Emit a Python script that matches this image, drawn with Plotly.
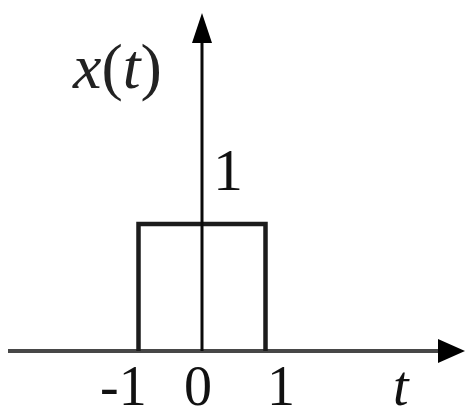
import plotly.graph_objects as go

# Rectangular pulse x(t): 1 for |t| < 1, 0 elsewhere
t_pulse = [-1, -1, 1, 1]
x_pulse = [0, 1, 1, 0]

# Labels on the time axis and the amplitude label
tick_vals = [-1, 0, 1]
tick_text = ["-1", "0", "1"]
amp_val = 1
amp_text = "1"

# ---- layout geometry (pixels) ----
W, H = 467, 417
x0_px, px_per_t = 202, 63.5      # pixel column of t = 0, pixels per unit of t
y0_px, px_per_x = 351, 127       # pixel row of x = 0, pixels per unit of x
xr = [-x0_px / px_per_t, (W - x0_px) / px_per_t]
yr = [-(H - y0_px) / px_per_x, y0_px / px_per_x]


def t_at(px):
    return (px - x0_px) / px_per_t


def v_at(py):
    return (y0_px - py) / px_per_x


FONT = "Liberation Serif"
label_dx = [-15, -4, 15]          # horizontal nudge of each tick label
label_dy = -35                    # tick labels sit below the axis

fig = go.Figure()

# pulse outline
fig.add_trace(go.Scatter(
    x=t_pulse, y=x_pulse, mode="lines",
    line=dict(color="#1c1c1c", width=4.5),
    hoverinfo="skip", showlegend=False,
))

shapes = []
# horizontal (time) axis shaft
shapes.append(dict(type="line", xref="x", yref="y",
                   x0=t_at(8), x1=t_at(445), y0=0, y1=0,
                   line=dict(color="#474747", width=4), layer="below"))
# vertical axis shaft
shapes.append(dict(type="line", xref="x", yref="y",
                   x0=0, x1=0, y0=0, y1=v_at(35),
                   line=dict(color="#0a0a0a", width=3), layer="above"))
# arrowheads, drawn in pixels around the tip
shapes.append(dict(type="path", xref="x", yref="y",
                   xsizemode="pixel", ysizemode="pixel",
                   xanchor=t_at(465), yanchor=0,
                   path="M 0 0 L -27 12 L -27 -12 Z",
                   fillcolor="#000000", line=dict(width=0)))
shapes.append(dict(type="path", xref="x", yref="y",
                   xsizemode="pixel", ysizemode="pixel",
                   xanchor=0, yanchor=v_at(13),
                   path="M 0 0 L -10 -30 L 10 -30 Z",
                   fillcolor="#000000", line=dict(width=0)))

annotations = []
for v, txt, dx in zip(tick_vals, tick_text, label_dx):
    annotations.append(dict(x=v, y=0, xref="x", yref="y", text=txt,
                            showarrow=False, xshift=dx, yshift=label_dy,
                            font=dict(family=FONT, size=56, color="#111111")))
annotations.append(dict(x=0, y=amp_val, xref="x", yref="y", text=amp_text,
                        showarrow=False, xshift=26, yshift=54,
                        font=dict(family=FONT, size=60, color="#111111")))
annotations.append(dict(x=t_at(401), y=0, xref="x", yref="y", text="<i>t</i>",
                        showarrow=False, yshift=-35,
                        font=dict(family=FONT, size=56, color="#111111")))
annotations.append(dict(x=t_at(117), y=v_at(66), xref="x", yref="y",
                        text="<i>x</i>(<i>t</i>)", showarrow=False,
                        font=dict(family=FONT, size=64, color="#222222")))

fig.update_layout(
    width=W, height=H,
    margin=dict(l=0, r=0, t=0, b=0),
    paper_bgcolor="white", plot_bgcolor="white",
    xaxis=dict(range=xr, visible=False, fixedrange=True),
    yaxis=dict(range=yr, visible=False, fixedrange=True),
    shapes=shapes, annotations=annotations,
)

fig.write_html("out.html")
